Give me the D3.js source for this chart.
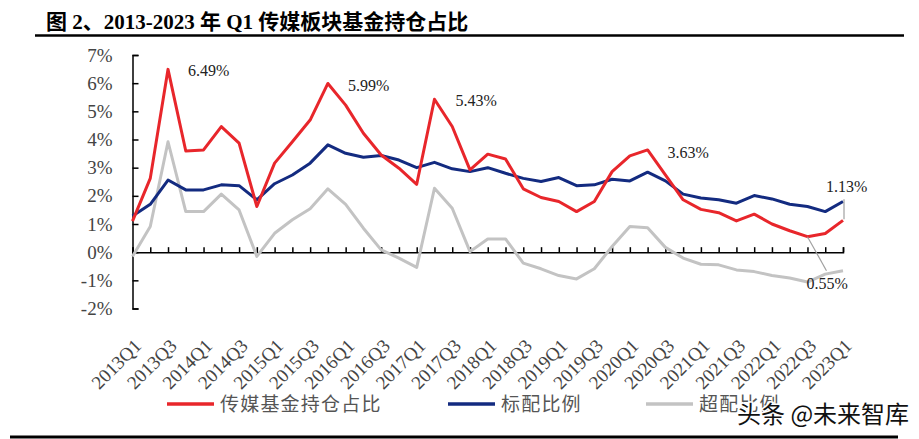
<!DOCTYPE html>
<html>
<head>
<meta charset="utf-8">
<script src="https://cdn.jsdelivr.net/npm/d3@7"></script>
<style>
  body { margin: 0; background: #fff; }
  svg { display: block; }
  .serif { font-family: "Liberation Serif", "Times New Roman", "Noto Sans CJK SC", serif; }
  .cjk { font-family: "Noto Sans CJK SC", sans-serif; }
</style>
</head>
<body>
<svg id="chart" width="919" height="439"></svg>
<script>
// quarters on the x axis
const quarters = [
  "2013Q1","2013Q2","2013Q3","2013Q4","2014Q1","2014Q2","2014Q3","2014Q4",
  "2015Q1","2015Q2","2015Q3","2015Q4","2016Q1","2016Q2","2016Q3","2016Q4",
  "2017Q1","2017Q2","2017Q3","2017Q4","2018Q1","2018Q2","2018Q3","2018Q4",
  "2019Q1","2019Q2","2019Q3","2019Q4","2020Q1","2020Q2","2020Q3","2020Q4",
  "2021Q1","2021Q2","2021Q3","2021Q4","2022Q1","2022Q2","2022Q3","2022Q4",
  "2023Q1"
];

// 传媒基金持仓占比 (%)
const holding = [1.10, 2.62, 6.49, 3.59, 3.63, 4.46, 3.87, 1.62, 3.16, 3.92, 4.69,
  5.99, 5.22, 4.22, 3.45, 2.98, 2.41, 5.43, 4.46, 2.92, 3.48, 3.31, 2.25, 1.94,
  1.80, 1.44, 1.80, 2.86, 3.42, 3.63, 2.74, 1.86, 1.52, 1.40, 1.11, 1.35, 1.00,
  0.76, 0.55, 0.66, 1.13];

// 标配比例 (%)
const standard = [1.28, 1.70, 2.56, 2.21, 2.21, 2.39, 2.36, 1.86, 2.43, 2.74, 3.16,
  3.81, 3.51, 3.37, 3.43, 3.27, 3.00, 3.19, 2.96, 2.86, 3.00, 2.80, 2.62, 2.51,
  2.65, 2.36, 2.39, 2.59, 2.53, 2.84, 2.53, 2.06, 1.92, 1.86, 1.74, 2.01, 1.89,
  1.70, 1.62, 1.44, 1.80];

// 超配比例 (%)
const overweight = [-0.15, 0.91, 3.92, 1.44, 1.44, 2.06, 1.50, -0.15, 0.67, 1.15, 1.54,
  2.25, 1.70, 0.85, 0.08, -0.21, -0.54, 2.27, 1.56, 0.02, 0.47, 0.47, -0.39, -0.59,
  -0.83, -0.95, -0.59, 0.20, 0.91, 0.87, 0.17, -0.21, -0.43, -0.45, -0.63, -0.69, -0.83,
  -0.92, -1.06, -0.78, -0.66];

const yTicks = [-2, -1, 0, 1, 2, 3, 4, 5, 6, 7];

// value labels on the red line
const callouts = [
  {i: 2, text: "6.49%"},
  {i: 11, text: "5.99%"},
  {i: 17, text: "5.43%"},
  {i: 29, text: "3.63%"},
  {i: 40, text: "1.13%"},
  {i: 38, text: "0.55%"}
];

const svg = d3.select("#chart");

const x = d3.scalePoint().domain(quarters).range([132.5, 843]);
const y = d3.scaleLinear().domain([-2, 7]).range([308.5, 55]);

// title
svg.append("text")
  .attr("class", "serif")
  .attr("x", 46).attr("y", 29)
  .attr("font-size", 21).attr("font-weight", "bold")
  .attr("fill", "#000")
  .text("图 2、2013-2023 年 Q1 传媒板块基金持仓占比");

svg.append("line")
  .attr("x1", 35).attr("x2", 904).attr("y1", 35.5).attr("y2", 35.5)
  .attr("stroke", "#000").attr("stroke-width", 2.5);

svg.append("line")
  .attr("x1", 10).attr("x2", 898).attr("y1", 437).attr("y2", 437)
  .attr("stroke", "#000").attr("stroke-width", 3);

// y axis
const yAxis = d3.axisLeft(y).tickValues(yTicks).tickSize(-6).tickPadding(20)
  .tickFormat(d => d + "%");
const gy = svg.append("g").attr("transform", "translate(132.5,0)").call(yAxis);
gy.select(".domain").attr("stroke", "#000").attr("stroke-width", 1.5);
gy.selectAll(".tick line").attr("stroke", "#000").attr("stroke-width", 1.5);
gy.selectAll(".tick text")
  .attr("class", "serif")
  .attr("font-size", 19).attr("fill", "#444");

// x axis on the zero line
const xAxis = d3.axisBottom(x).tickSize(-5).tickFormat("");
const gx = svg.append("g").attr("transform", `translate(0,${y(0)})`).call(xAxis);
gx.select(".domain").attr("stroke", "#000").attr("stroke-width", 1.5);
gx.selectAll(".tick line").attr("stroke", "#000").attr("stroke-width", 1.5);

// rotated quarter labels, every second quarter
svg.append("g").selectAll("text")
  .data(quarters.filter((q, i) => i % 2 === 0))
  .join("text")
  .attr("class", "serif")
  .attr("font-size", 19).attr("fill", "#444")
  .attr("text-anchor", "end")
  .attr("transform", d => `translate(${x(d) + 10},${347}) rotate(-45)`)
  .text(d => d);

// lines
const line = d3.line().x((d, i) => x(quarters[i])).y(d => y(d));
const series = [
  {name: "超配比例", values: overweight, color: "#c3c3c3"},
  {name: "标配比例", values: standard, color: "#132b80"},
  {name: "传媒基金持仓占比", values: holding, color: "#e8262b"}
];
svg.append("g").selectAll("path")
  .data(series)
  .join("path")
  .attr("d", d => line(d.values))
  .attr("fill", "none")
  .attr("stroke", d => d.color)
  .attr("stroke-width", 3)
  .attr("stroke-linejoin", "round");

// callout labels
const offsets = {
  2: [20, 7], 11: [20, 8], 17: [21, 7], 29: [20, 8], 40: [-17, -28], 38: [-1, 52]
};
const gc = svg.append("g");
callouts.forEach(c => {
  const px = x(quarters[c.i]), py = y(holding[c.i]);
  const [dx, dy] = offsets[c.i];
  gc.append("text")
    .attr("class", "serif")
    .attr("x", px + dx).attr("y", py + dy)
    .attr("font-size", 16).attr("fill", "#222")
    .text(c.text);
});
// leader lines
gc.append("line")
  .attr("x1", x(quarters[40]) + 1).attr("y1", y(holding[40]) - 21)
  .attr("x2", x(quarters[40]) + 1).attr("y2", y(holding[40]) - 1)
  .attr("stroke", "#a0a0a0").attr("stroke-width", 1.2);
gc.append("line")
  .attr("x1", x(quarters[38])).attr("y1", y(holding[38]))
  .attr("x2", x(quarters[38]) + 19).attr("y2", y(holding[38]) + 34)
  .attr("stroke", "#a0a0a0").attr("stroke-width", 1.2);

// legend
const legend = [
  {name: "传媒基金持仓占比", color: "#e8262b", x: 167},
  {name: "标配比例", color: "#132b80", x: 448},
  {name: "超配比例", color: "#c3c3c3", x: 646}
];
const gl = svg.append("g").selectAll("g").data(legend).join("g")
  .attr("transform", d => `translate(${d.x},404)`);
gl.append("line")
  .attr("x1", 0).attr("x2", 47)
  .attr("stroke", d => d.color).attr("stroke-width", 3.5);
gl.append("text")
  .attr("class", "cjk")
  .attr("x", 53).attr("y", 7)
  .attr("font-size", 19).attr("fill", "#555")
  .attr("letter-spacing", 1.2)
  .text(d => d.name);

// watermark, drawn over the last legend entry as in the source image
svg.append("text")
  .attr("class", "cjk")
  .attr("x", 737).attr("y", 423)
  .attr("font-size", 24).attr("fill", "#111")
  .attr("stroke", "#fff").attr("stroke-width", 3)
  .attr("paint-order", "stroke")
  .text("头条 @未来智库");
</script>
</body>
</html>
